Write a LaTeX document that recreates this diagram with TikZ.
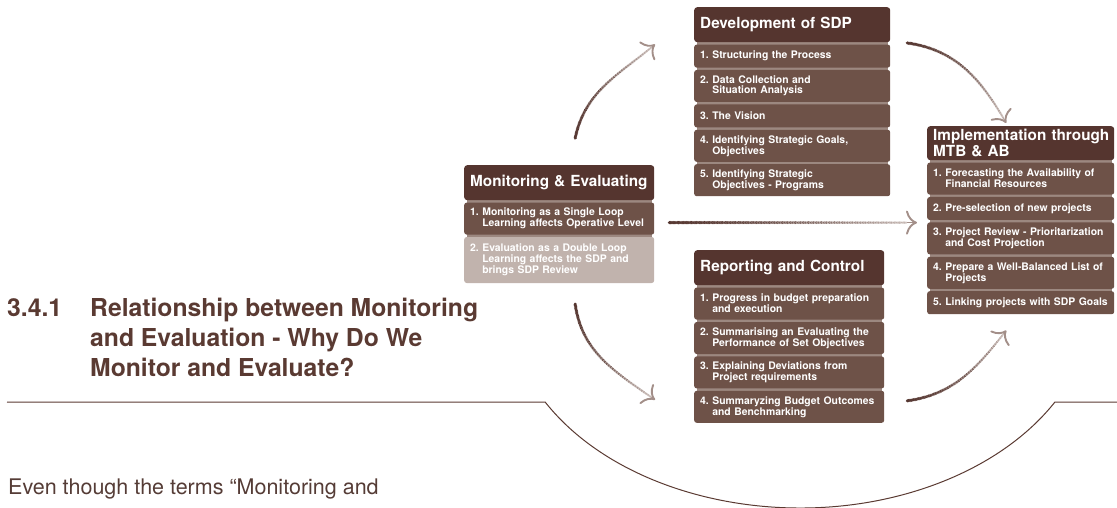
\documentclass[tikz,border=0pt]{standalone}
\usepackage{fontspec}
\setmainfont{TeX Gyre Heros}
\frenchspacing
\usetikzlibrary{calc,positioning,arrows.meta,decorations.markings,backgrounds}

\definecolor{headbrown}{HTML}{55352F}
\definecolor{itembrown}{HTML}{6E5248}
\definecolor{palebrown}{HTML}{C1B3AD}
\definecolor{gapbrown}{HTML}{9C8880}
\definecolor{inkbrown}{HTML}{5A3A32}
\definecolor{bodygray}{HTML}{553C36}
\definecolor{flowdark}{HTML}{553630}
\definecolor{flowlight}{HTML}{CFC3BF}
\definecolor{tipbrown}{HTML}{A38F89}

\tikzset{
  head/.style={fill=headbrown, text=white, rounded corners=3pt, font=\fontsize{15.3}{16}\selectfont\bfseries, align=left, inner xsep=6pt, inner ysep=0pt, minimum height=35pt, anchor=north west},
  item/.style={fill=itembrown, text=white, rounded corners=2.5pt, font=\fontsize{10.4}{10}\selectfont\bfseries, align=left, inner xsep=6pt, inner ysep=0pt, minimum height=23pt},
  item2/.style={item, minimum height=32pt},
  item3/.style={item, fill=palebrown, minimum height=46pt},
  heading/.style={text=inkbrown, font=\fontsize{24.7}{30}\selectfont\bfseries, inner sep=0pt},
  bodytext/.style={text=bodygray, font=\fontsize{21.5}{25}\selectfont, inner sep=0pt},
  rule/.style={draw=inkbrown, line width=1pt},
  flow/.style={draw=tipbrown, line width=0.8pt,
    -{Computer Modern Rightarrow[length=11pt,width=24pt,line width=1.9pt]},
    postaction={decorate},
    decoration={markings, mark=between positions 0 and 0.96 step 1.3pt with {%
      \pgfmathsetmacro\flowq{\pgfkeysvalueof{/pgf/decoration/mark info/distance from start}/\pgfdecoratedpathlength}%
      \pgfmathtruncatemacro\flowp{100-100*\flowq*\flowq}%
      \pgfmathtruncatemacro\flowk{mod(\pgfkeysvalueof{/pgf/decoration/mark info/sequence number},2)}%
      \ifnum\flowk=1 \pgfmathtruncatemacro\flowp{\flowp*(1-\flowq)}\fi
      \pgfmathsetmacro\flowr{1.7-0.5*\flowq}%
      \fill[flowdark!\flowp!flowlight] (0,0) circle (\flowr pt);}}},
}

\begin{document}
\begin{tikzpicture}[x=1pt,y=1pt]
\useasboundingbox (0,0) rectangle (1117,507);

	% heading and text %
	\node[heading, anchor=base west] (secnum) at (7,191) {3.4.1};
	\node[heading, anchor=base west, align=left] (title) at (90,131) {Relationship between Monitoring\\and Evaluation - Why Do We\\Monitor and Evaluate?};
	\node[bodytext, anchor=base west] (intro) at (8,13) {Even though the terms “Monitoring and};

	% rule with bowl %
	\draw[rule] (7,105) -- (545.2,104.9) arc[start angle=209.4, end angle=330.6, x radius=292.5, y radius=208] -- (1117,104.9);

	% development of SDP %
	\begin{scope}[nodes={text width=184pt}]
	\node[head] (devh) at (694,500) {Development of SDP};
	\node[item, below=2pt of devh] (dev1) {1. Structuring the Process};
	\node[item2, below=2pt of dev1] (dev2) {2. Data Collection and\\\hphantom{2. }Situation Analysis};
	\node[item, below=2pt of dev2] (dev3) {3. The Vision};
	\node[item2, below=2pt of dev3] (dev4) {4. Identifying Strategic Goals,\\\hphantom{4. }Objectives};
	\node[item2, below=2pt of dev4] (dev5) {5. Identifying Strategic\\\hphantom{5. }Objectives - Programs};
	\end{scope}

	% monitoring %
	\begin{scope}[nodes={text width=178pt}]
	\node[head] (monh) at (464,342) {\mbox{Monitoring \& Evaluating}};
	\node[item2, below=2pt of monh] (mon1) {1. Monitoring as a Single Loop\\\hphantom{1. }Learning affects Operative Level};
	\node[item3, below=2pt of mon1] (mon2) {2. Evaluation as a Double Loop\\\hphantom{2. }Learning affects the SDP and\\\hphantom{2. }brings SDP Review};
	\end{scope}

	% reporting %
	\begin{scope}[nodes={text width=178pt}]
	\node[head] (reph) at (694,257) {Reporting and Control};
	\node[item2, below=2pt of reph] (rep1) {1. Progress in budget preparation\\\hphantom{1. }and execution};
	\node[item2, below=2pt of rep1] (rep2) {2. Summarising an Evaluating the\\\hphantom{2. }Performance of Set Objectives};
	\node[item2, below=2pt of rep2] (rep3) {3. Explaining Deviations from\\\hphantom{3. }Project requirements};
	\node[item2, below=2pt of rep3] (rep4) {4. Summaryzing Budget Outcomes\\\hphantom{4. }and Benchmarking};
	\end{scope}

	% implementation %
	\begin{scope}[nodes={text width=175pt}]
	\node[head, minimum height=34pt] (imph) at (927,381) {\mbox{Implementation through}\\MTB \& AB};
	\node[item2, below=2pt of imph] (imp1) {\mbox{1. Forecasting the Availability of}\\\hphantom{1. }Financial Resources};
	\node[item, below=2pt of imp1] (imp2) {\mbox{2. Pre-selection of new projects}};
	\node[item2, below=2pt of imp2] (imp3) {\mbox{3. Project Review - Prioritarization}\\\hphantom{3. }and Cost Projection};
	\node[item2, below=2pt of imp3] (imp4) {\mbox{4. Prepare a Well-Balanced List of}\\\hphantom{4. }Projects};
	\node[item, below=2pt of imp4] (imp5) {\mbox{5. Linking projects with SDP Goals}};
	\end{scope}

	% bands between items %
	\begin{scope}[on background layer]
	\fill[gapbrown] ([xshift=2.5pt]devh.south west) rectangle ([xshift=-2.5pt]dev5.north east);
	\fill[gapbrown] ([xshift=2.5pt]monh.south west) rectangle ([xshift=-2.5pt]mon2.north east);
	\fill[gapbrown] ([xshift=2.5pt]reph.south west) rectangle ([xshift=-2.5pt]rep4.north east);
	\fill[gapbrown] ([xshift=2.5pt]imph.south west) rectangle ([xshift=-2.5pt]imp5.north east);
	\end{scope}

	% arrow ends %
	\coordinate (a1s) at ($(monh.north)+(16,27)$);
	\coordinate (a1e) at ($(devh.south west)+(-39,-2)$);
	\coordinate (a2s) at ($(devh.north east)+(17,-36)$);
	\coordinate (a2e) at ($(imph.north)+(-14.5,3)$);
	\coordinate (a3s) at ($(mon1.east)+(15,-4)$);
	\coordinate (a3e) at ($(a3s -| imp2.west)+(-10,0)$);
	\coordinate (a4s) at ($(mon2.south)+(16,-21)$);
	\coordinate (a4e) at ($(rep4.west)+(-39,7)$);
	\coordinate (a5s) at ($(rep4.east)+(23,6)$);
	\coordinate (a5e) at ($(imp5.south)+(-14.5,-16)$);

	% arrows %
	\draw[flow] (a1s) to[out=78,in=220] (a1e);
	\draw[flow] (a2s) to[out=-8,in=120] (a2e);
	\draw[flow] (a3s) -- (a3e);
	\draw[flow] (a4s) to[out=-82,in=145] (a4e);
	\draw[flow] (a5s) to[out=8,in=232] (a5e);

\end{tikzpicture}
\end{document}
